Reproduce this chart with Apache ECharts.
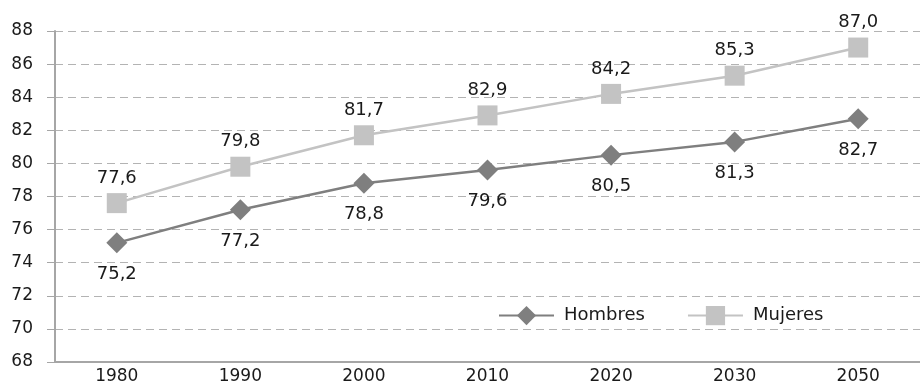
<!DOCTYPE html>
<html>
<head>
<meta charset="utf-8">
<script src="https://cdn.jsdelivr.net/npm/echarts@6/dist/echarts.min.js"></script>
<style>
  html, body { margin: 0; padding: 0; background: #fff; }
  #main { width: 920px; height: 385px; }
</style>
</head>
<body>
<div id="main"></div>
<script>
// categorías (falta 2040 en el original)
var years = ['1980', '1990', '2000', '2010', '2020', '2030', '2050'];
var hombres = [75.2, 77.2, 78.8, 79.6, 80.5, 81.3, 82.7];
var mujeres = [77.6, 79.8, 81.7, 82.9, 84.2, 85.3, 87.0];

var myChart = echarts.init(document.getElementById('main'));

function fmt(p) {
  return p.value.toFixed(1).replace('.', ',');
}

var font = 'DejaVu Sans, Liberation Sans, sans-serif';

var option = {
  animation: false,
  textStyle: { fontFamily: font },
  grid: { left: 55, top: 31, width: 869, height: 333 },
  legend: {
    data: ['Hombres', 'Mujeres'],
    left: 493,
    top: 301,
    itemWidth: 55,
    itemHeight: 24,
    itemGap: 42,
    textStyle: { fontSize: 18, color: '#1a1a1a', fontFamily: font, padding: [0, 0, 0, 5] }
  },
  xAxis: {
    type: 'category',
    data: years,
    boundaryGap: true,
    axisLine: { lineStyle: { color: '#a6a6a6', width: 2 } },
    axisTick: { length: 5, lineStyle: { color: '#a6a6a6' } },
    axisLabel: { fontSize: 17, color: '#1a1a1a', margin: 6, fontFamily: font }
  },
  yAxis: {
    type: 'value',
    min: 68,
    max: 88,
    interval: 2,
    axisLine: { show: true, lineStyle: { color: '#a6a6a6', width: 2 } },
    axisTick: { show: true, length: 8, lineStyle: { color: '#a6a6a6' } },
    axisLabel: { fontSize: 17, color: '#1a1a1a', margin: 22, fontFamily: font },
    splitLine: { lineStyle: { color: '#b3b3b3', type: [8, 5] } }
  },
  series: [{
    name: 'Hombres',
    type: 'line',
    data: hombres,
    symbol: 'diamond',
    symbolSize: 21,
    lineStyle: { color: '#7f7f7f', width: 2.5 },
    itemStyle: { color: '#7f7f7f' },
    label: { show: true, position: 'bottom', distance: 12, fontSize: 18, color: '#1a1a1a', formatter: fmt, fontFamily: font }
  }, {
    name: 'Mujeres',
    type: 'line',
    data: mujeres,
    symbol: 'rect',
    symbolSize: 20,
    lineStyle: { color: '#c3c3c3', width: 2.5 },
    itemStyle: { color: '#c3c3c3' },
    label: { show: true, position: 'top', distance: 6, fontSize: 18, color: '#1a1a1a', formatter: fmt, fontFamily: font }
  }]
};

myChart.setOption(option);
</script>
</body>
</html>
